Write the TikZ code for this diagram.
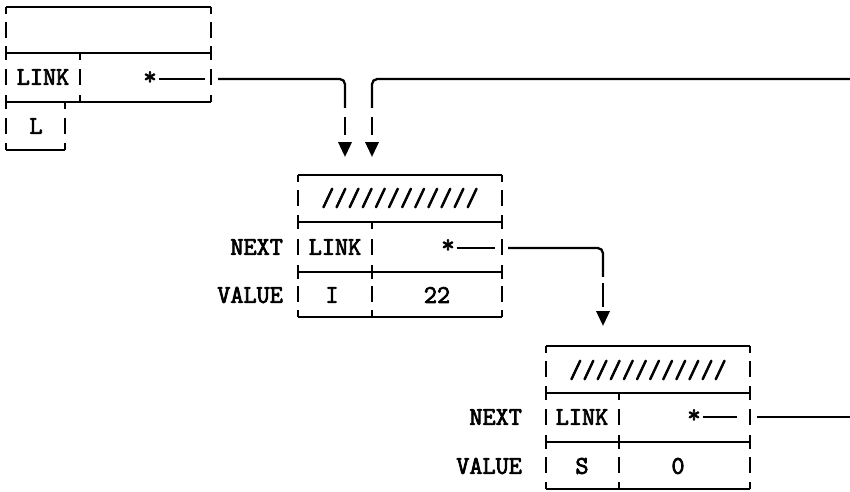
\documentclass[tikz,border=0pt]{standalone}
\usepackage{fontspec}
\newfontfamily\twfont{Latin Modern Mono}[FakeBold=3]
\usetikzlibrary{arrows.meta}
\tikzset{
  tw/.style={line width=1.6pt},
  conn/.style={line width=1.3pt, rounded corners=3pt},
  txt/.style={font=\twfont\fontsize{14.5}{14.5}\selectfont, inner sep=1pt},
  drop/.style={line width=1.6pt, dash pattern=on #1 off 30pt,
    -{Triangle[length=8.5pt,width=7.5pt]}},
  drop/.default=10pt
}
\newcommand\tbar[3]{\draw[tw] (#1,#2)--++(0,7) (#1,{(#2+#3)/2-8})--++(0,16) (#1,#3)--++(0,-7);}

\begin{document}
\begin{tikzpicture}[x=0.02cm,y=-0.02cm]
\useasboundingbox (0,0) rectangle (850,492);

% first block
\draw[tw] (6,7)--(211,7) (6,53)--(211,53) (6,102)--(211,102) (6,150)--(65,150);
\foreach \x in {6,211} \foreach \a/\b in {7/53,53/102} {\tbar{\x}{\a}{\b}}
\tbar{80}{53}{102}
\tbar{6}{102}{150}
\tbar{65}{102}{150}
\node[txt] (lk1) at (43,77) {LINK};
\node[txt] (l1) at (36,126) {L};
\node[txt] (s1) at (150,78) {*};

% second block
\draw[tw] (298,175)--(502,175) (298,222)--(502,222) (298,272)--(502,272) (298,317)--(502,317);
\foreach \x in {298,502} \foreach \a/\b in {175/222,222/272,272/317} {\tbar{\x}{\a}{\b}}
\foreach \a/\b in {222/272,272/317} {\tbar{372}{\a}{\b}}
\node[txt] (h2) at (400,198) {////////////};
\node[txt] (lk2) at (335,247) {LINK};
\node[txt] (s2) at (448,246) {*};
\node[txt] (v2) at (332,295) {I};
\node[txt] (n2) at (437,295) {22};
\node[txt, anchor=east] (nx2) at (285,247) {NEXT};
\node[txt, anchor=east] (va2) at (285,295) {VALUE};

% third block
\draw[tw] (546,346)--(750,346) (546,393)--(750,393) (546,442)--(750,442) (546,489)--(750,489);
\foreach \x in {546,750} \foreach \a/\b in {346/393,393/442,442/489} {\tbar{\x}{\a}{\b}}
\foreach \a/\b in {393/442,442/489} {\tbar{619}{\a}{\b}}
\node[txt] (h3) at (648,370) {////////////};
\node[txt] (lk3) at (582,417) {LINK};
\node[txt] (s3) at (694,416) {*};
\node[txt] (v3) at (582,466) {S};
\node[txt] (n3) at (678,466) {0};
\node[txt, anchor=east] (nx3) at (524,417) {NEXT};
\node[txt, anchor=east] (va3) at (524,466) {VALUE};

% links
\coordinate (r1) at (205,79);
\coordinate (o1) at (218,79);
\coordinate (k1) at (345,108);
\coordinate (m1) at (345,117);
\coordinate (p1) at (345,157);
\coordinate (e1) at (850,79);
\coordinate (k1b) at (372,108);
\coordinate (m1b) at (372,117);
\coordinate (p1b) at (372,157);
\draw[conn] (s1.east |- r1) -- (r1);
\draw[conn] (o1) -| (k1);
\draw[drop] (m1) -- (p1);
\draw[conn] (e1) -| (k1b);
\draw[drop] (m1b) -- (p1b);

\coordinate (r2) at (495,248);
\coordinate (o2) at (508,248);
\coordinate (k2) at (603,277);
\coordinate (m2) at (603,283);
\coordinate (p2) at (603,326);
\draw[conn] (s2.east |- r2) -- (r2);
\draw[conn] (o2) -| (k2);
\draw[drop=13.5pt] (m2) -- (p2);

\coordinate (r3) at (737,417);
\coordinate (o3) at (757,417);
\coordinate (e3) at (850,417);
\draw[conn] (s3.east |- r3) -- (r3);
\draw[conn] (o3) -- (e3);
\end{tikzpicture}
\end{document}
